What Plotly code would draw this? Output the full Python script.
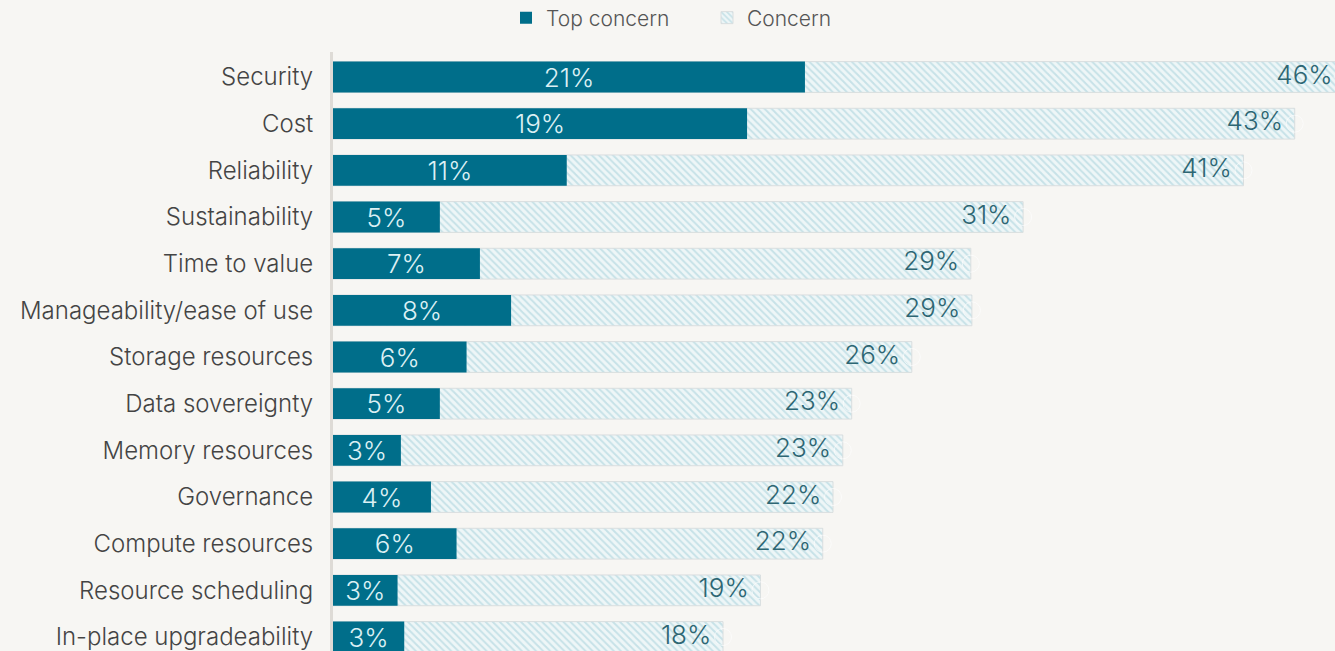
import plotly.graph_objects as go

categories = ["Security", "Cost", "Reliability", "Sustainability", "Time to value",
              "Manageability/ease of use", "Storage resources", "Data sovereignty",
              "Memory resources", "Governance", "Compute resources",
              "Resource scheduling", "In-place upgradeability"]
top_concern = [21.2, 18.6, 10.5, 4.8, 6.6, 8.0, 6.0, 4.8, 3.05, 4.4, 5.55, 2.9, 3.2]
concern = [45.5, 43.2, 40.9, 31.0, 28.65, 28.7, 26.0, 23.3, 22.9, 22.46, 22.0, 19.2, 17.52]

BG = "#f7f6f3"
DARK = "#006e8a"
FONT = "Inter"
X_MAX = 45.01  # visible end of the value axis (longest bar runs past the edge)

# the Concern labels sit just inside the visible end of each bar
label_x = [min(v, X_MAX * 0.9999) for v in concern]
label_text = [f"{v:.0f}%" for v in concern]
label_pad = [17 if v <= X_MAX else 2 for v in concern]

fig = go.Figure()
fig.add_trace(go.Bar(
    name="Concern", y=categories, x=concern, orientation="h",
    width=0.66, legendrank=2,
    marker=dict(color="#ebf4f5", line=dict(color="#d9dedf", width=1),
                pattern=dict(shape="\\", fgcolor="#9fcdd8", bgcolor="#eef6f7",
                             size=5, solidity=0.4)),
    hoverinfo="skip",
))
fig.add_trace(go.Bar(
    name="Top concern", y=categories, x=top_concern, orientation="h",
    width=0.66, legendrank=1,
    marker=dict(color=DARK, line=dict(width=0)),
    texttemplate="%{x:.0f}%", textposition="inside",
    insidetextanchor="middle", constraintext="none",
    textfont=dict(family=FONT, size=26, color="#dcf0f4", weight=300),
    hoverinfo="skip",
))
fig.add_trace(go.Scatter(
    y=categories, x=label_x, mode="markers+text", showlegend=False,
    marker=dict(size=label_pad, color="rgba(0,0,0,0)"),
    text=label_text, textposition="middle left",
    textfont=dict(family=FONT, size=26, color="#2d6673", weight=300),
    cliponaxis=False, hoverinfo="skip",
))

fig.update_layout(
    width=1335, height=651,
    margin=dict(l=333, r=0, t=52, b=0),
    paper_bgcolor=BG, plot_bgcolor=BG,
    barmode="overlay",
    font=dict(family=FONT, color="#444444", size=22, weight=300),
    legend=dict(orientation="h", xref="container", yref="container",
                x=506 / 1335, xanchor="left", y=1 - 18 / 651, yanchor="middle",
                entrywidth=156,
                font=dict(size=21, color="#555555", family=FONT, weight=300),
                bgcolor="rgba(0,0,0,0)"),
    xaxis=dict(range=[0, X_MAX], showgrid=False, zeroline=False,
               showticklabels=False, showline=False, fixedrange=True),
    yaxis=dict(type="category", categoryorder="array", categoryarray=categories,
               range=[12.3, -0.536], showgrid=False, zeroline=False,
               showline=True, linecolor="#dedbd6", linewidth=3,
               ticks="", ticklabelstandoff=12,
               tickfont=dict(size=24, color="#444444", family=FONT, weight=300)),
)

fig.write_html("out.html")
